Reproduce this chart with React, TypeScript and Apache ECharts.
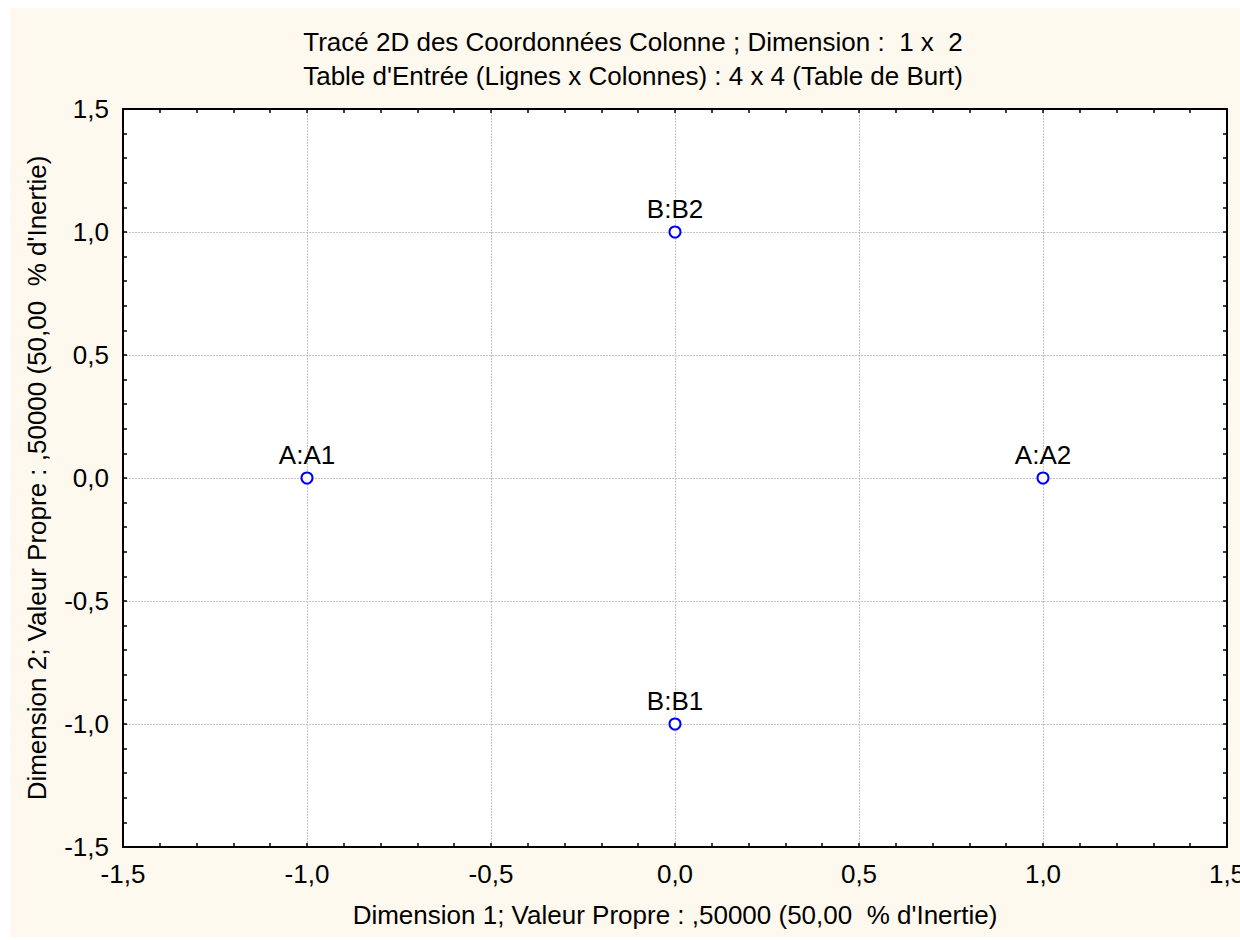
import React, { useEffect, useRef } from "react";
import * as echarts from "echarts";

const titleLines = [
  "Tracé 2D des Coordonnées Colonne ; Dimension :  1 x  2",
  "Table d'Entrée (Lignes x Colonnes) : 4 x 4 (Table de Burt)",
];
const xAxisName = "Dimension 1; Valeur Propre : ,50000 (50,00  % d'Inertie)";
const yAxisName = "Dimension 2; Valeur Propre : ,50000 (50,00  % d'Inertie)";

const pointLabels = ["A:A1", "A:A2", "B:B1", "B:B2"];
const dim1 = [-1.0, 1.0, 0.0, 0.0];
const dim2 = [0.0, 0.0, -1.0, 1.0];

const axisMin = -1.5;
const axisMax = 1.5;
const majorStep = 0.5;
const minorPerMajor = 5;

const FONT = "'Liberation Sans', Arial, sans-serif";
const FS = 26;

const fmt = (v: number) => v.toFixed(1).replace(".", ",");

export default function App() {
  const ref = useRef<HTMLDivElement>(null);
  useEffect(() => {
    if (!ref.current) return;
    const chart = echarts.init(ref.current, undefined, { renderer: "svg", width: 1230, height: 929 });
    const axisCommon = (main: boolean) => ({
      type: "value",
      min: axisMin,
      max: axisMax,
      interval: majorStep,
      axisLine: { show: true, onZero: false, lineStyle: { color: "#000", width: 2 } },
      axisTick: {
        show: true,
        inside: true,
        length: 4,
        lineStyle: { color: "#000", width: 1.5 },
      },
      minorTick: {
        show: true,
        splitNumber: minorPerMajor,
        length: 4,
        lineStyle: { color: "#000", width: 1.5 },
      },
      axisLabel: main
        ? { show: true, formatter: fmt, color: "#000", fontSize: FS, fontFamily: FONT, margin: 14 }
        : { show: false },
      splitLine: main
        ? { show: true, lineStyle: { color: "#c4c4c4", type: [2, 1], width: 1 } }
        : { show: false },
    });
    const titleStyle = { fontSize: FS, fontWeight: "normal", color: "#000", fontFamily: FONT };
    chart.setOption({
      animation: false,
      backgroundColor: "#fdf9ef",
      title: [
        { text: titleLines[0], left: 618, top: 16, textAlign: "center", textStyle: titleStyle },
        { text: titleLines[1], left: 618, top: 50, textAlign: "center", textStyle: titleStyle },
      ],
      grid: {
        left: 113,
        top: 101,
        right: 13,
        bottom: 90,
        show: true,
        backgroundColor: "#fff",
        borderWidth: 0,
        containLabel: false,
        outerBoundsMode: "none",
      },
      xAxis: [
        {
          ...axisCommon(true),
          position: "bottom",
          name: xAxisName,
          nameLocation: "middle",
          nameGap: 55,
          nameTextStyle: { fontSize: FS, color: "#000", fontFamily: FONT },
        },
        { ...axisCommon(false), position: "top" },
      ],
      yAxis: [
        {
          ...axisCommon(true),
          position: "left",
          name: yAxisName,
          nameLocation: "middle",
          nameGap: 73,
          nameRotate: 90,
          nameTextStyle: { fontSize: FS, color: "#000", fontFamily: FONT },
        },
        { ...axisCommon(false), position: "right" },
      ],
      series: [
        {
          type: "scatter",
          xAxisIndex: 0,
          yAxisIndex: 0,
          symbol: "circle",
          symbolSize: 11,
          itemStyle: { color: "#fff", borderColor: "#0000ff", borderWidth: 2, opacity: 1 },
          label: {
            show: true,
            position: "top",
            distance: 4,
            formatter: (p: any) => p.data[2],
            color: "#000",
            fontSize: FS,
            fontFamily: FONT,
          },
          data: dim1.map((x, i) => [x, dim2[i], pointLabels[i]]),
        },
      ],
    });
    return () => chart.dispose();
  }, []);
  return (
    <div
      ref={ref}
      style={{ position: "absolute", left: 10, top: 8, width: 1230, height: 929, overflow: "hidden" }}
    />
  );
}
